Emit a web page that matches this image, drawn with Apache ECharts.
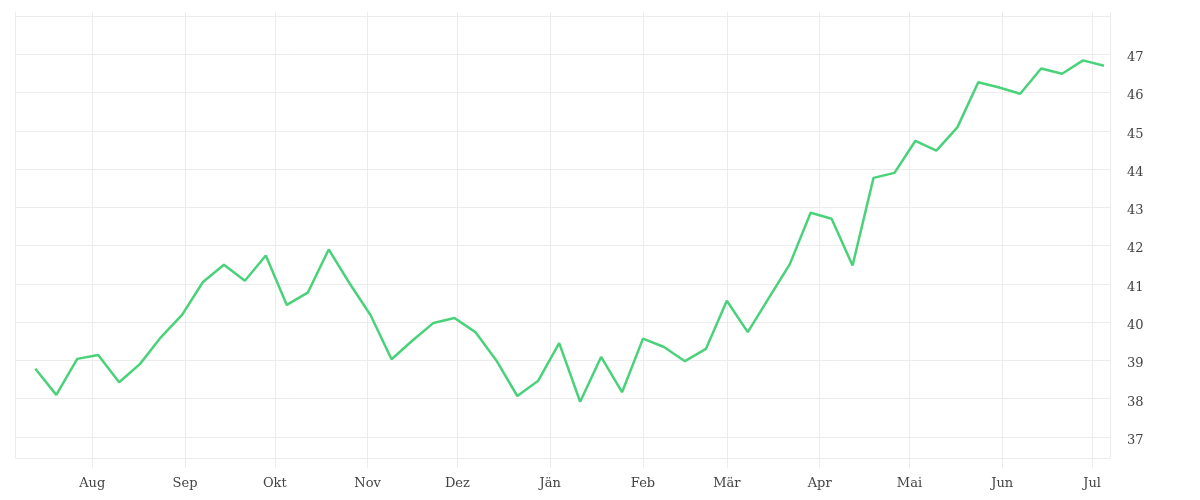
<!DOCTYPE html>
<html>
<head>
<meta charset="utf-8">
<script src="https://cdn.jsdelivr.net/npm/echarts@6/dist/echarts.min.js"></script>
<style>html,body{margin:0;padding:0;background:#fff;}#c{width:1200px;height:500px;}</style>
</head>
<body>
<div id="c"></div>
<script>
var dates = ['2022-07-13','2022-07-20','2022-07-27','2022-08-03','2022-08-10','2022-08-17','2022-08-24','2022-08-31',
'2022-09-07','2022-09-14','2022-09-21','2022-09-28','2022-10-05','2022-10-12','2022-10-19','2022-10-26',
'2022-11-02','2022-11-09','2022-11-16','2022-11-23','2022-11-30','2022-12-07','2022-12-14','2022-12-21','2022-12-28',
'2023-01-04','2023-01-11','2023-01-18','2023-01-25','2023-02-01','2023-02-08','2023-02-15','2023-02-22',
'2023-03-01','2023-03-08','2023-03-15','2023-03-22','2023-03-29','2023-04-05','2023-04-12','2023-04-19','2023-04-26',
'2023-05-03','2023-05-10','2023-05-17','2023-05-24','2023-05-31','2023-06-07','2023-06-14','2023-06-21','2023-06-28','2023-07-05'];
var values = [38.78,38.10,39.04,39.14,38.43,38.91,39.61,40.19,41.05,41.50,
41.08,41.74,40.45,40.77,41.90,41.01,40.18,39.03,39.52,39.98,
40.11,39.74,39.00,38.07,38.47,39.45,37.92,39.09,38.17,39.57,
39.35,38.98,39.30,40.56,39.74,40.63,41.51,42.86,42.70,41.48,
43.77,43.90,44.74,44.48,45.09,46.27,46.13,45.97,46.63,46.49,
46.84,46.70];
var monthLabels = ['Jän','Feb','Mär','Apr','Mai','Jun','Jul','Aug','Sep','Okt','Nov','Dez'];
var yTickLabels = [37,38,39,40,41,42,43,44,45,46,47];

function parseDate(s){var p=s.split('-');return new Date(+p[0],+p[1]-1,+p[2]).getTime();}
var seriesData = dates.map(function(d,i){return [parseDate(d), values[i]];});
var xMin = new Date(2022,6,6,5).getTime();
var xMax = new Date(2023,6,7,0).getTime();
var gridColor = '#ececec';
var font = '"DejaVu Serif", serif';
var DAY = 86400000;

var chart = echarts.init(document.getElementById('c'), null, {renderer:'canvas'});
chart.setOption({
  animation:false,
  grid:{left:15,right:90,top:16,bottom:42,containLabel:false},
  xAxis:[{
    type:'time', min:xMin, max:xMax,
    minInterval:28*DAY, maxInterval:31*DAY,
    axisLine:{show:false},
    axisTick:{show:true,length:10,lineStyle:{color:gridColor,width:1}},
    splitLine:{show:true,lineStyle:{color:gridColor,width:1}},
    axisLabel:{
      margin:19, color:'#444', fontFamily:font, fontSize:13,
      hideOverlap:false,
      formatter:function(v){var d=new Date(v);return monthLabels[d.getMonth()];}
    }
  },{
    type:'time', position:'top', min:xMin, max:xMax,
    minInterval:28*DAY, maxInterval:31*DAY,
    axisLine:{show:false},
    axisTick:{show:true,length:4,lineStyle:{color:gridColor,width:1}},
    splitLine:{show:false},
    axisLabel:{show:false}
  }],
  yAxis:{
    type:'value', position:'right', min:36.45, max:48, splitNumber:11,
    axisLine:{show:true,lineStyle:{color:gridColor,width:1}},
    axisTick:{show:false},
    splitLine:{show:true,lineStyle:{color:gridColor,width:1}},
    axisLabel:{
      margin:17, color:'#444', fontFamily:font, fontSize:13,
      showMinLabel:false, showMaxLabel:false,
      formatter:function(v){return yTickLabels.indexOf(v)>=0 ? '{a|' + v + '}' : '';},
      rich:{a:{fontFamily:font,fontSize:13,color:'#444',padding:[7,0,0,0]}}
    }
  },
  series:[{
    type:'line', data:seriesData, xAxisIndex:0,
    showSymbol:false, symbol:'none',
    lineStyle:{color:'#4ad27b',width:2.5},
    itemStyle:{color:'#4ad27b'}
  }]
});
</script>
</body>
</html>
